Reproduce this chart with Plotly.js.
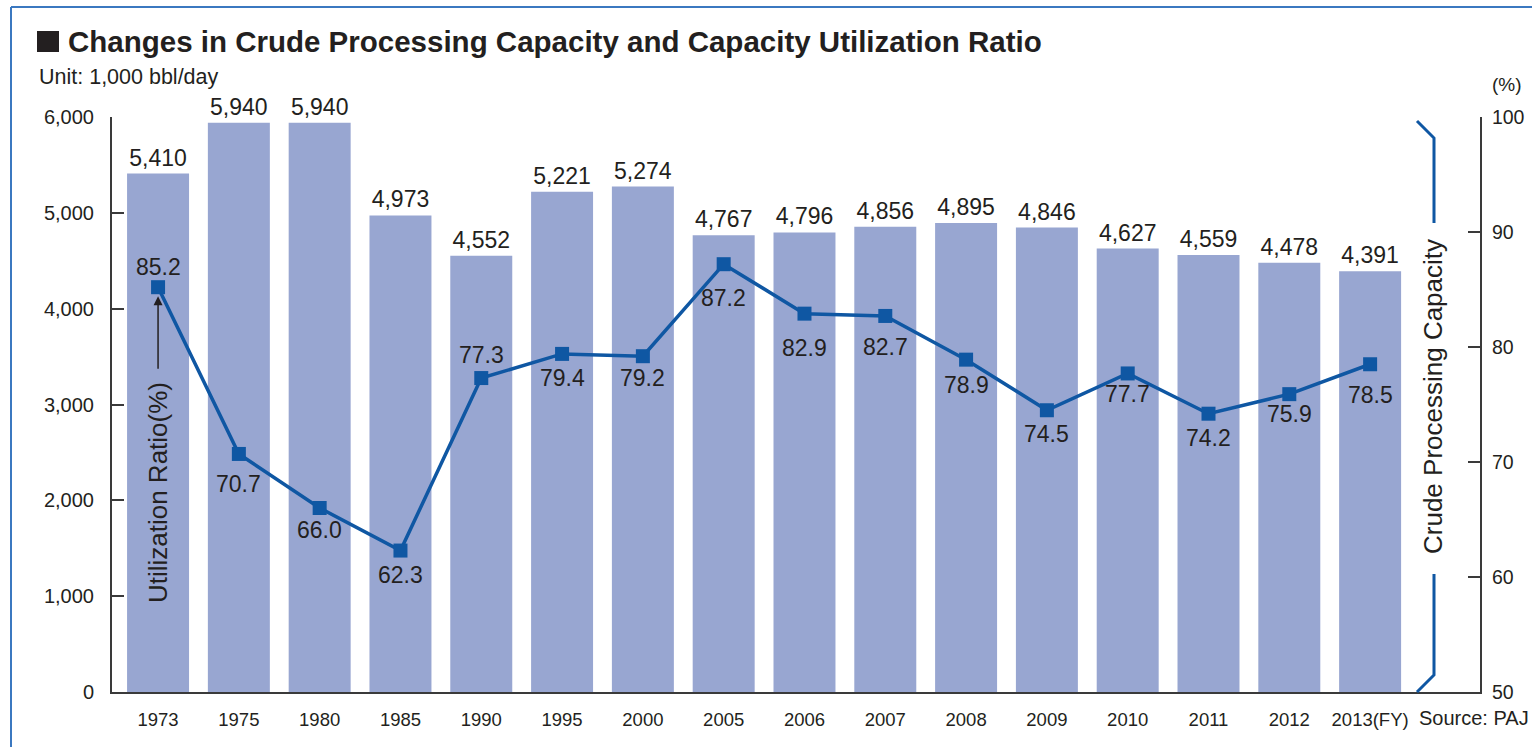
<!DOCTYPE html>
<html>
<head>
<meta charset="utf-8">
<script src="https://cdn.plot.ly/plotly-3.0.1.min.js"></script>
<style>html,body{margin:0;padding:0;background:#fff;}#chart{width:1532px;height:747px;}</style>
</head>
<body>
<div id="chart"></div>
<script>
var years = ["1973","1975","1980","1985","1990","1995","2000","2005","2006","2007","2008","2009","2010","2011","2012","2013(FY)"];
var capacity = [5410,5940,5940,4973,4552,5221,5274,4767,4796,4856,4895,4846,4627,4559,4478,4391];
var utilization = [85.2,70.7,66.0,62.3,77.3,79.4,79.2,87.2,82.9,82.7,78.9,74.5,77.7,74.2,75.9,78.5];
var leftTicks = [0,1000,2000,3000,4000,5000,6000];
var rightTicks = [50,60,70,80,90,100];

var txtColor = '#231f20';
var barColor = '#98a6d1';
var lineColor = '#0f57a3';
var font = 'Liberation Sans, Arial, sans-serif';

// label offsets (pixels) for the utilization value labels
var labelShift = [20, -30, -22, -24, 23, -24, -22, -34, -34, -31, -25, -24, -21, -24, -20, -31];

var traces = [
  {
    type: 'bar', x: years, y: capacity,
    marker: {color: barColor},
    text: capacity.map(function(v){ return v.toLocaleString('en-US'); }),
    textposition: 'outside', cliponaxis: false,
    textfont: {family: font, size: 23, color: txtColor},
    hoverinfo: 'skip'
  },
  {
    type: 'scatter', mode: 'lines+markers', x: years, y: utilization, yaxis: 'y2',
    line: {color: lineColor, width: 3.5},
    marker: {symbol: 'square', size: 14, color: lineColor},
    cliponaxis: false,
    hoverinfo: 'skip'
  }
];

function px(x){ return (x - 112) / 1368; }
function py(y){ return (692 - y) / 575; }

var annotations = [
  {text: 'Unit: 1,000 bbl/day', xref: 'paper', yref: 'paper', x: px(37), y: py(77), xanchor: 'left', yanchor: 'middle', showarrow: false, font: {family: font, size: 21.5, color: txtColor}},
  {text: '(%)', xref: 'paper', yref: 'paper', x: px(1507), y: py(85), xanchor: 'center', yanchor: 'middle', showarrow: false, font: {family: font, size: 19, color: txtColor}},
  {text: 'Source: PAJ', xref: 'paper', yref: 'paper', x: px(1531), y: py(718), xanchor: 'right', yanchor: 'middle', showarrow: false, font: {family: font, size: 20, color: txtColor}},
  {text: 'Utilization Ratio(%)', textangle: -90, xref: 'x', yref: 'paper', x: 0, y: py(493), xanchor: 'center', yanchor: 'middle', showarrow: false, font: {family: font, size: 26, color: txtColor}},
  {text: '', xref: 'x', yref: 'y2', x: 0, y: utilization[0], showarrow: true, arrowhead: 2, arrowsize: 1.2, arrowwidth: 1.5, arrowcolor: txtColor, ax: 0, ay: 83, standoff: 9},
  {text: 'Crude Processing Capacity', textangle: -90, xref: 'paper', yref: 'paper', x: px(1433), y: py(397), xanchor: 'center', yanchor: 'middle', showarrow: false, font: {family: font, size: 26, color: txtColor}}
];
utilization.forEach(function(v, i){
  annotations.push({
    text: v.toFixed(1), xref: 'x', yref: 'y2', x: i, y: v, yshift: labelShift[i],
    xanchor: 'center', yanchor: 'middle', showarrow: false,
    font: {family: font, size: 23, color: txtColor}
  });
});

var layout = {
  width: 1532, height: 747,
  margin: {l: 112, r: 52, t: 117, b: 55},
  paper_bgcolor: '#fff', plot_bgcolor: 'rgba(0,0,0,0)',
  showlegend: false,
  bargap: 0.233,
  font: {family: font, color: txtColor},
  title: {
    text: '<b>Changes in Crude Processing Capacity and Capacity Utilization Ratio</b>',
    font: {family: font, size: 29.5, color: txtColor},
    xref: 'container', yref: 'container', x: 68/1532, xanchor: 'left', y: 1 - 42/747, yanchor: 'middle'
  },
  xaxis: {
    type: 'category', range: [-0.57, 16.36],
    showline: true, linecolor: '#3a3a3a', linewidth: 2, ticks: '', showgrid: false, zeroline: false,
    tickfont: {family: font, size: 18.5, color: txtColor}, ticklabelstandoff: 10
  },
  yaxis: {
    range: [0, 6000], tickvals: leftTicks, tickformat: ',',
    showline: true, linecolor: '#3a3a3a', linewidth: 2,
    ticks: 'inside', ticklen: 12, tickwidth: 2, tickcolor: '#3a3a3a',
    showgrid: false, zeroline: false,
    tickfont: {family: font, size: 20, color: txtColor}, ticklabelstandoff: 12
  },
  yaxis2: {
    overlaying: 'y', side: 'right', range: [50, 100], tickvals: rightTicks,
    showline: true, linecolor: '#3a3a3a', linewidth: 2,
    ticks: 'inside', ticklen: 12, tickwidth: 2, tickcolor: '#3a3a3a',
    showgrid: false, zeroline: false,
    tickfont: {family: font, size: 19.5, color: txtColor}, ticklabelstandoff: 6
  },
  shapes: [
    {type: 'line', xref: 'paper', yref: 'paper', x0: px(11), x1: px(11), y0: py(760), y1: py(7), line: {color: '#3b78c0', width: 2}},
    {type: 'line', xref: 'paper', yref: 'paper', x0: px(11), x1: px(1545), y0: py(7), y1: py(7), line: {color: '#3b78c0', width: 2}},
    {type: 'rect', xref: 'paper', yref: 'paper', x0: px(37), x1: px(59), y0: py(52), y1: py(31), fillcolor: txtColor, line: {width: 0}},
    {type: 'path', xref: 'paper', yref: 'paper',
     path: 'M ' + px(1417) + ' ' + py(121) + ' L ' + px(1434) + ' ' + py(138) + ' L ' + px(1434) + ' ' + py(223),
     line: {color: lineColor, width: 3}},
    {type: 'path', xref: 'paper', yref: 'paper',
     path: 'M ' + px(1434) + ' ' + py(574) + ' L ' + px(1434) + ' ' + py(675) + ' L ' + px(1417) + ' ' + py(692),
     line: {color: lineColor, width: 3}}
  ],
  annotations: annotations
};

Plotly.newPlot('chart', traces, layout, {displayModeBar: false, staticPlot: true});
</script>
</body>
</html>
